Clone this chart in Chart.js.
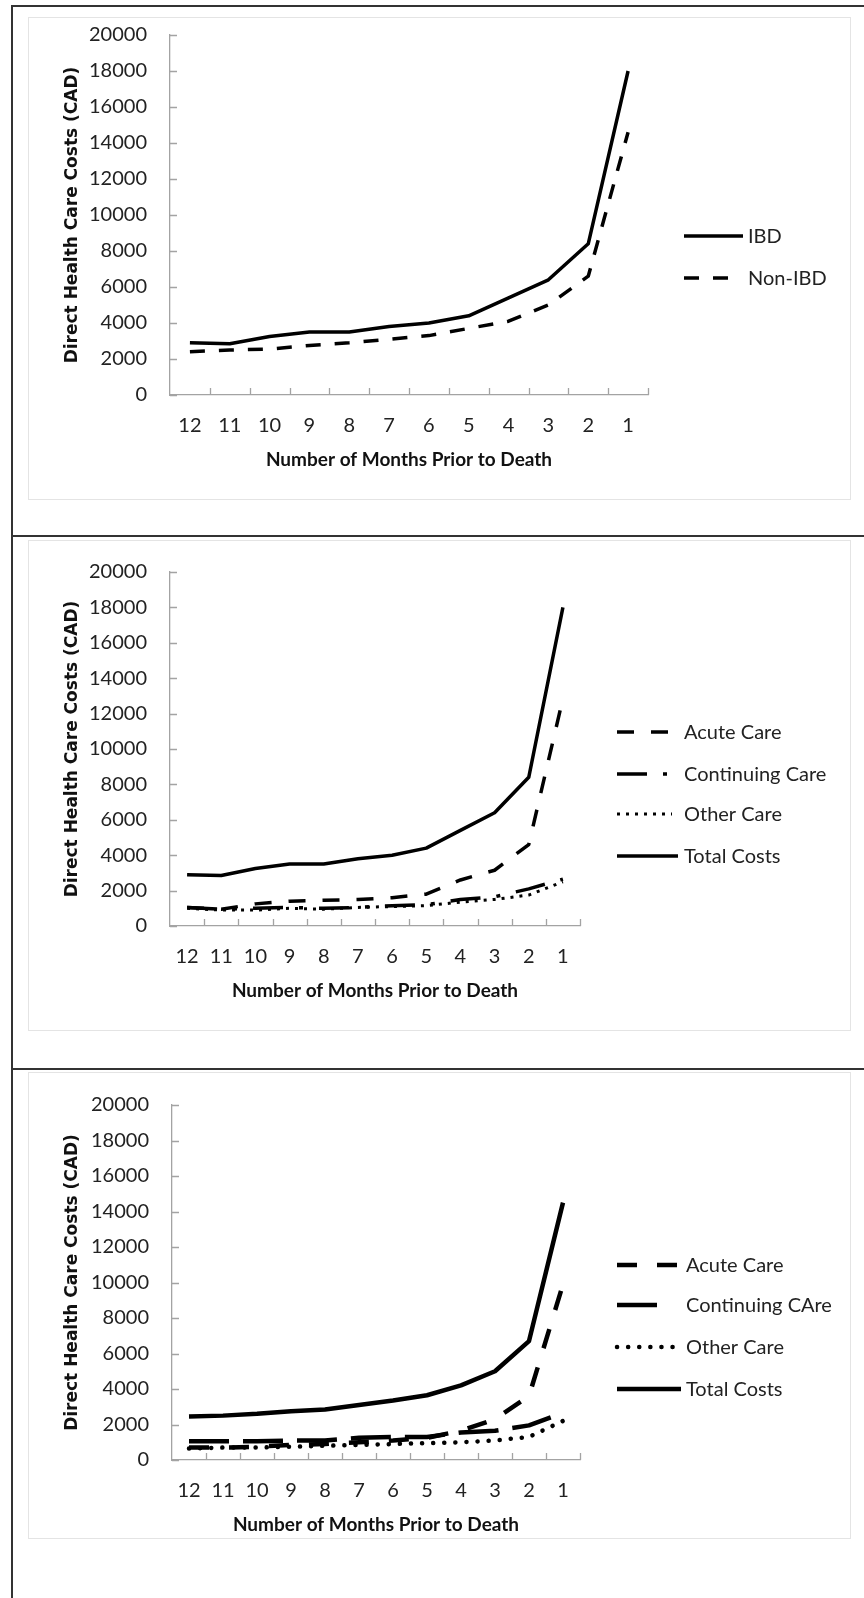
<!DOCTYPE html>
<html>
<head>
<meta charset="utf-8">
<script src="https://cdn.jsdelivr.net/npm/chart.js@4/dist/chart.umd.min.js"></script>
<style>
  body { margin: 0; background: #fff; }
  #page { position: relative; width: 864px; height: 1598px; overflow: hidden; }
  .ln { position: absolute; background: #333; }
  .box { position: absolute; border: 1px solid #e4e4e4; box-sizing: border-box; }
  canvas { position: absolute; left: 0; }
</style>
</head>
<body>
<div id="page">
  <div class="ln" style="left:11px;top:5px;width:2px;height:1593px"></div>
  <div class="ln" style="left:11px;top:5px;width:853px;height:2px"></div>
  <div class="ln" style="left:11px;top:535px;width:853px;height:2px"></div>
  <div class="ln" style="left:11px;top:1068px;width:853px;height:2px"></div>
  <div class="box" style="left:28px;top:17px;width:823px;height:483px"></div>
  <div class="box" style="left:28px;top:540px;width:823px;height:491px"></div>
  <div class="box" style="left:28px;top:1072px;width:823px;height:467px"></div>
  <canvas id="c1" width="864" height="535" style="top:0"></canvas>
  <canvas id="c2" width="864" height="531" style="top:537px"></canvas>
  <canvas id="c3" width="864" height="528" style="top:1070px"></canvas>
</div>
<script>
var months = ['12', '11', '10', '9', '8', '7', '6', '5', '4', '3', '2', '1'];

// panel 1: IBD vs non-IBD
var ibd    = [2900, 2850, 3250, 3500, 3500, 3800, 4000, 4400, 5400, 6400, 8400, 18000];
var nonIbd = [2400, 2500, 2550, 2750, 2900, 3100, 3300, 3700, 4100, 5000, 6600, 14600];

// panel 2: IBD by care type
var acute2      = [1050, 950, 1250, 1400, 1450, 1500, 1600, 1800, 2600, 3150, 4600, 12850];
var continuing2 = [1050, 950, 1000, 1050, 1000, 1050, 1150, 1200, 1500, 1650, 2100, 2650];
var other2      = [1000, 900, 900, 1000, 950, 1050, 1100, 1150, 1350, 1500, 1750, 2500];
var total2      = [2900, 2850, 3250, 3500, 3500, 3800, 4000, 4400, 5400, 6400, 8400, 18000];

// panel 3: non-IBD by care type
var acute3      = [700, 700, 750, 850, 900, 1000, 1100, 1250, 1650, 2300, 3600, 9900];
var continuing3 = [1050, 1050, 1050, 1100, 1100, 1250, 1300, 1300, 1550, 1650, 1950, 2650];
var other3      = [650, 700, 700, 750, 800, 850, 900, 950, 1000, 1100, 1300, 2200];
var total3      = [2450, 2500, 2600, 2750, 2850, 3100, 3350, 3650, 4200, 5000, 6700, 14500];

var axisGray = '#a3a3a3';
var numFont = 'Lato, "Open Sans", sans-serif';

// small tick marks pointing into the plot, like the original
var innerTicks = {
  id: 'innerTicks',
  afterDraw: function (chart) {
    var ctx = chart.ctx, a = chart.chartArea;
    var x = chart.scales.x, y = chart.scales.y;
    var n = chart.data.labels.length;
    var step = (x.right - x.left) / n;
    ctx.save();
    ctx.strokeStyle = axisGray;
    ctx.lineWidth = 1.3;
    ctx.beginPath();
    for (var i = 1; i <= n; i++) {
      var px = Math.round(x.left + i * step) + 0.5;
      ctx.moveTo(px, a.bottom);
      ctx.lineTo(px, a.bottom - 7);
    }
    y.ticks.forEach(function (t) {
      var py = Math.round(y.getPixelForValue(t.value)) + 0.5;
      ctx.moveTo(a.left, py);
      ctx.lineTo(a.left + 7, py);
    });
    ctx.stroke();
    ctx.restore();
  }
};

// legend drawn at the right with real line samples
var sideLegend = {
  id: 'sideLegend',
  afterDraw: function (chart, args, opts) {
    var ctx = chart.ctx, top = chart.chartArea.top;
    chart.data.datasets.forEach(function (ds, i) {
      var yy = top + opts.rows[i];
      ctx.save();
      ctx.strokeStyle = '#000';
      ctx.lineWidth = ds.borderWidth;
      ctx.lineCap = ds.borderCapStyle || 'butt';
      ctx.setLineDash(ds.borderDash || []);
      ctx.beginPath();
      ctx.moveTo(opts.x0, yy);
      ctx.lineTo(opts.ends[i], yy);
      ctx.stroke();
      ctx.setLineDash([]);
      ctx.fillStyle = '#222';
      ctx.font = '20px ' + numFont;
      ctx.textBaseline = 'middle';
      ctx.fillText(ds.label, opts.tx, yy + 1);
      ctx.restore();
    });
  }
};

function line(label, data, width, dash, cap) {
  return {
    label: label,
    data: data,
    borderColor: '#000',
    backgroundColor: '#000',
    borderWidth: width,
    borderDash: dash,
    borderCapStyle: cap || 'butt',
    borderJoinStyle: 'round',
    pointRadius: 0,
    tension: 0,
    fill: false
  };
}

function makeChart(id, datasets, box, legend) {
  var canvas = document.getElementById(id);
  var H = canvas.height;
  var xH = 76;
  return new Chart(canvas, {
    type: 'line',
    data: { labels: months, datasets: datasets },
    plugins: [innerTicks, sideLegend],
    options: {
      responsive: false,
      animation: false,
      layout: { padding: { left: 0, top: box.top, right: 864 - box.right, bottom: H - box.bottom - xH } },
      plugins: {
        legend: { display: false },
        tooltip: { enabled: false },
        sideLegend: legend
      },
      scales: {
        x: {
          offset: true,
          grid: { display: false, drawTicks: false },
          border: { color: axisGray, width: 1.3 },
          ticks: { color: '#222', font: { family: numFont, size: 20 }, padding: 19, maxRotation: 0, autoSkip: false },
          title: {
            display: true,
            text: 'Number of Months Prior to Death',
            color: '#111',
            font: { family: numFont, size: 19, weight: 'bold' },
            padding: { top: 0, bottom: 0 }
          },
          afterFit: function (s) { s.height = xH; }
        },
        y: {
          min: 0,
          max: 20000,
          grid: { display: false, drawTicks: false },
          border: { color: axisGray, width: 1.3 },
          ticks: {
            stepSize: 2000,
            color: '#222',
            padding: 23,
            font: { family: numFont, size: 20 },
            callback: function (v) { return String(v); }
          },
          title: {
            display: true,
            text: 'Direct Health Care Costs (CAD)',
            color: '#111',
            font: { family: '"DejaVu Sans", Verdana, sans-serif', size: 17, weight: 'bold' },
            padding: { top: 62, bottom: 0 }
          },
          afterFit: function (s) { s.width = box.left; }
        }
      }
    }
  });
}

makeChart('c1', [
  line('IBD', ibd, 3.5, []),
  line('Non-IBD', nonIbd, 3.5, [15, 14])
], { left: 170, right: 648, top: 33, bottom: 395 },
{ x0: 684, ends: [743, 728], tx: 748, rows: [201, 243] });

makeChart('c2', [
  line('Acute Care', acute2, 3.5, [17, 17]),
  line('Continuing Care', continuing2, 3.5, [30, 16, 4, 16]),
  line('Other Care', other2, 3, [3, 6]),
  line('Total Costs', total2, 3.5, [])
], { left: 170, right: 580, top: 27, bottom: 389 },
{ x0: 617, ends: [668, 667, 672, 678], tx: 684, rows: [160, 202, 242, 284] });

makeChart('c3', [
  line('Acute Care', acute3, 4.5, [20, 20]),
  line('Continuing CAre', continuing3, 4.5, [40, 14]),
  line('Other Care', other3, 4.5, [0.1, 11], 'round'),
  line('Total Costs', total3, 4.5, [])
], { left: 172, right: 580, top: 27, bottom: 390 },
{ x0: 617, ends: [679, 658, 679, 681], tx: 686, rows: [160, 200, 242, 284] });
</script>
</body>
</html>
